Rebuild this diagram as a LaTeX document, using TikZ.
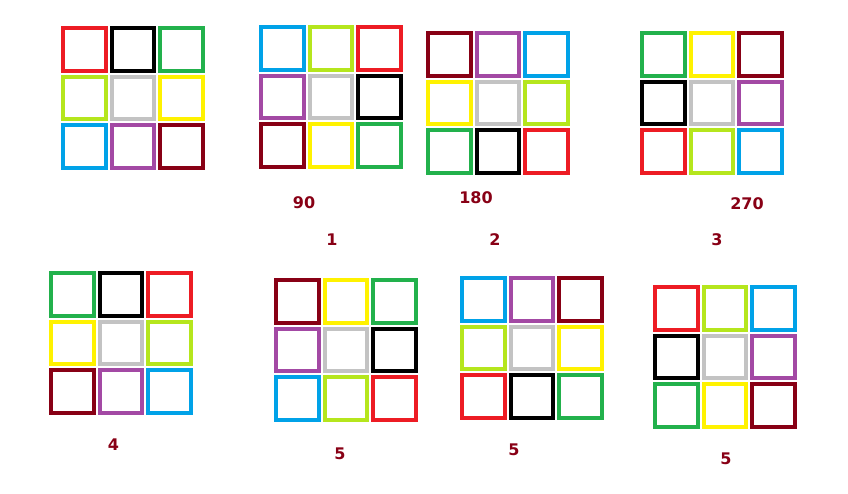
\documentclass[tikz,border=0pt]{standalone}
\usepackage{fontspec}
\setmainfont{DejaVu Sans}
\definecolor{cR}{HTML}{ED1C24}
\definecolor{cK}{HTML}{000000}
\definecolor{cG}{HTML}{22B14C}
\definecolor{cL}{HTML}{B5E61D}
\definecolor{cS}{HTML}{C3C3C3}
\definecolor{cY}{HTML}{FFF200}
\definecolor{cB}{HTML}{00A2E8}
\definecolor{cP}{HTML}{A349A4}
\definecolor{cD}{HTML}{880015}
\newcommand\cubegrid[4]{%
  \foreach \c [count=\i from 0] in {#4} {
    \pgfmathtruncatemacro\gcol{mod(\i,3)}
    \pgfmathtruncatemacro\grow{div(\i,3)}
    \node[cell, draw=\c] (#1-\i) at ({#2+23.33+48.67*\gcol},{#3+23.33+48.67*\grow}) {};
  }%
}
\begin{document}
\begin{tikzpicture}[x=1pt,y=-1pt,
  cell/.style={rectangle, minimum size=42.67pt, inner sep=0pt, line width=4pt},
  lbl/.style={text=cD, font=\fontsize{16}{19}\selectfont\bfseries, inner sep=0pt}]
\useasboundingbox (0,0) rectangle (848,494);
\cubegrid{g1}{61}{26}{cR,cK,cG,cL,cS,cY,cB,cP,cD}
\cubegrid{g2}{259}{25}{cB,cL,cR,cP,cS,cK,cD,cY,cG}
\cubegrid{g3}{426}{31}{cD,cP,cB,cY,cS,cL,cG,cK,cR}
\cubegrid{g4}{640}{31}{cG,cY,cD,cK,cS,cP,cR,cL,cB}
\cubegrid{g5}{49}{271}{cG,cK,cR,cY,cS,cL,cD,cP,cB}
\cubegrid{g6}{274}{278}{cD,cY,cG,cP,cS,cK,cB,cL,cR}
\cubegrid{g7}{460}{276}{cB,cP,cD,cL,cS,cY,cR,cK,cG}
\cubegrid{g8}{653}{285}{cR,cL,cB,cK,cS,cP,cG,cY,cD}
\node[lbl] (a90) at (304,203) {90};
\node[lbl] (a180) at (476,198) {180};
\node[lbl] (a270) at (747,204) {270};
\node[lbl] (n1) at (332,240) {1};
\node[lbl] (n2) at (495,240) {2};
\node[lbl] (n3) at (717,240) {3};
\node[lbl] (n4) at (113.5,445) {4};
\node[lbl] (n5a) at (340,454) {5};
\node[lbl] (n5b) at (514,450) {5};
\node[lbl] (n5c) at (726,459) {5};
\end{tikzpicture}
\end{document}
